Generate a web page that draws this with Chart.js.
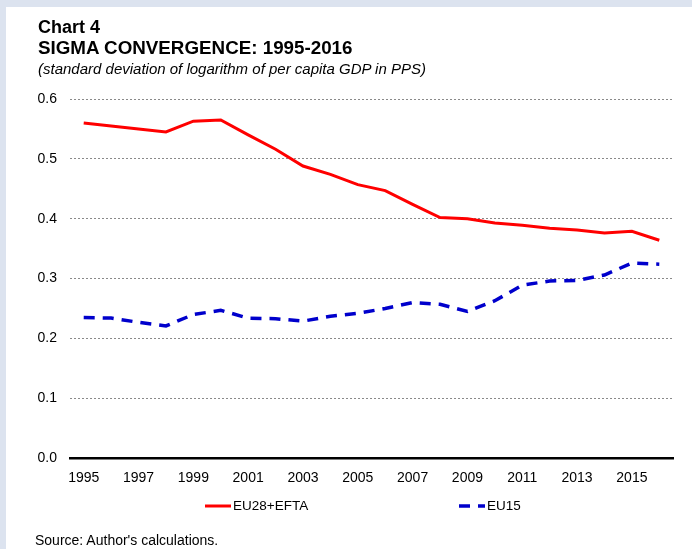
<!DOCTYPE html>
<html><head><meta charset="utf-8">
<script src="https://cdn.jsdelivr.net/npm/chart.js@4"></script>
<style>
html,body{margin:0;padding:0;}
body{width:692px;height:549px;background:#dce3ef;position:relative;overflow:hidden;font-family:"Liberation Sans",Arial,sans-serif;color:#000;}
#panel{position:absolute;left:6px;top:7px;right:0;bottom:0;background:#fff;}
#c{position:absolute;left:0;top:0;}
.t{position:absolute;left:38px;white-space:nowrap;line-height:1;}
</style></head><body>
<div id="panel"></div>
<canvas id="c" width="692" height="549"></canvas>
<div class="t" style="top:18px;font-size:18px;font-weight:bold">Chart 4</div>
<div class="t" style="top:39px;font-size:18.8px;font-weight:bold">SIGMA CONVERGENCE: 1995-2016</div>
<div class="t" style="top:61px;font-size:15px;font-style:italic">(standard deviation of logarithm of per capita GDP in PPS)</div>
<div class="t" style="top:533px;font-size:14px;left:35px">Source: Author's calculations.</div>
<script>
const years = ['1995','1996','1997','1998','1999','2000','2001','2002','2003','2004','2005','2006','2007','2008','2009','2010','2011','2012','2013','2014','2015','2016'];
const eu28efta = [0.560,0.555,0.550,0.545,0.563,0.565,0.540,0.516,0.488,0.474,0.457,0.447,0.424,0.402,0.400,0.393,0.389,0.384,0.381,0.376,0.379,0.364];
const eu15 = [0.235,0.234,0.227,0.221,0.240,0.247,0.234,0.233,0.229,0.237,0.242,0.250,0.260,0.257,0.245,0.263,0.289,0.296,0.297,0.306,0.326,0.324];
const xTickLabels = ['1995','1997','1999','2001','2003','2005','2007','2009','2011','2013','2015'];
const seriesNames = ['EU28+EFTA','EU15'];

const lineLegend = {
  id: 'lineLegend',
  afterDraw(chart, args, opts) {
    const ctx = chart.ctx;
    chart.data.datasets.forEach((ds, i) => {
      const x = opts.x[i], y = opts.y, w = opts.len;
      ctx.save();
      ctx.strokeStyle = ds.borderColor;
      ctx.lineWidth = ds.borderWidth;
      ctx.setLineDash(ds.borderDash || []);
      ctx.beginPath(); ctx.moveTo(x, y); ctx.lineTo(x + w, y); ctx.stroke();
      ctx.setLineDash([]);
      ctx.fillStyle = '#000';
      ctx.font = opts.font;
      ctx.textBaseline = 'middle';
      ctx.fillText(ds.label, x + w + opts.gap, y);
      ctx.restore();
    });
  }
};

Chart.defaults.font.family = '"Liberation Sans", Arial, sans-serif';
Chart.defaults.color = '#000';

new Chart(document.getElementById('c'), {
  type: 'line',
  data: {
    labels: years,
    datasets: [
      { label: seriesNames[0], data: eu28efta, borderColor: '#ff0000', borderWidth: 3, pointRadius: 0, tension: 0, fill: false },
      { label: seriesNames[1], data: eu15, borderColor: '#0000cc', borderWidth: 3.5, borderDash: [11, 8], pointRadius: 0, tension: 0, fill: false }
    ]
  },
  options: {
    responsive: false,
    animation: false,
    devicePixelRatio: 1,
    layout: { padding: { top: 99, left: 0, right: 19, bottom: 50 } },
    plugins: {
      legend: { display: false },
      tooltip: { enabled: false },
      lineLegend: { x: [205, 459], y: 506, len: 26, gap: 2, font: '13.5px "Liberation Sans", Arial, sans-serif' }
    },
    scales: {
      x: {
        type: 'category',
        offset: true,
        grid: { display: false, drawTicks: false },
        border: { display: true, color: '#000', width: 2.5 },
        ticks: {
          autoSkip: false, maxRotation: 0, padding: 12,
          font: { size: 14 },
          callback: function(v, i) { const l = this.getLabelForValue(v); return xTickLabels.includes(l) ? l : ''; }
        }
      },
      y: {
        min: 0, max: 0.6,
        afterFit(s) { s.width = 70; },
        grid: { color: ctx => ctx.tick && ctx.tick.value === 0 ? 'rgba(0,0,0,0)' : '#8a8a8a', lineWidth: 1, drawTicks: false },
        border: { display: false, dash: [2, 2] },
        ticks: { stepSize: 0.1, padding: 13, font: { size: 14 }, callback: v => v.toFixed(1) }
      }
    }
  },
  plugins: [lineLegend]
});
</script>
</body></html>
